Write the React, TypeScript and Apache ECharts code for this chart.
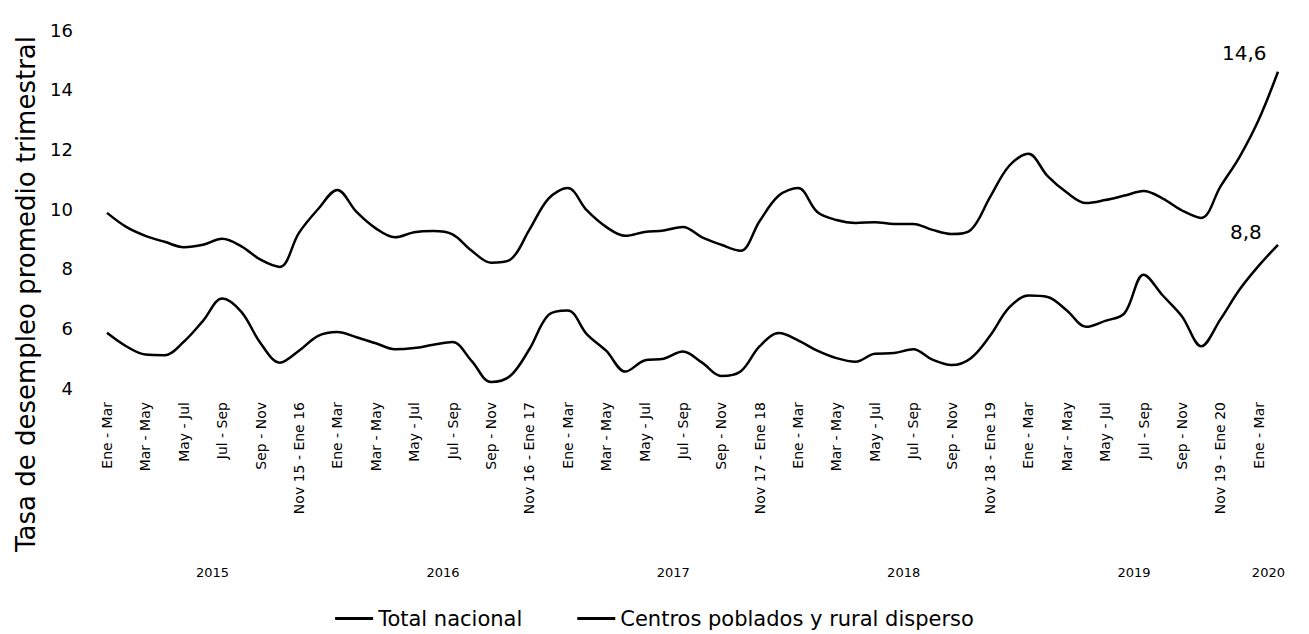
import React, { useEffect, useRef } from "react";
import * as echarts from "echarts";

const FONT = "DejaVu Sans";

const months = ["Ene", "Feb", "Mar", "Abr", "May", "Jun", "Jul", "Ago", "Sep", "Oct", "Nov", "Dic"];
const startYear = 2015;
const nCategories = 62;

// Rolling-quarter category labels (Ene - Mar 2015 ... Feb - Abr 2020)
const categories: string[] = [];
for (let i = 0; i < nCategories; i++) {
  const m = i % 12;
  const y = startYear + Math.floor(i / 12);
  const yy = String(y).slice(2);
  const yy1 = String(y + 1).slice(2);
  if (m <= 9) categories.push(`${months[m]} - ${months[m + 2]}`);
  else categories.push(`${months[m]} ${yy} - ${months[(m + 2) % 12]} ${yy1}`);
}

const yearLabels = ["2015", "2016", "2017", "2018", "2019", "2020"];
const yearTickPositions = [5.5, 17.5, 29.5, 41.5, 53.5, 60.5];

const totalNacional = [
  9.87, 9.4, 9.1, 8.9, 8.72, 8.8, 9.0, 8.75, 8.3, 8.06,
  9.2, 10.0, 10.64, 9.9, 9.35, 9.05, 9.22, 9.26, 9.15, 8.6,
  8.2, 8.3, 9.3, 10.35, 10.7, 9.95, 9.4, 9.1, 9.23, 9.28,
  9.4, 9.05, 8.8, 8.6, 9.6, 10.45, 10.7, 9.9, 9.63, 9.53,
  9.56, 9.5, 9.5, 9.3, 9.16, 9.3, 10.4, 11.45, 11.85, 11.1,
  10.55, 10.2, 10.3, 10.45, 10.6, 10.35, 9.95, 9.7, 10.75, 11.75,
  13.0, 14.6,
];

const centrosPoblados = [
  5.85, 5.4, 5.12, 5.1, 5.55, 6.25, 7.0, 6.55, 5.5, 4.85,
  5.25, 5.75, 5.88, 5.7, 5.5, 5.3, 5.34, 5.45, 5.54, 4.9,
  4.2, 4.4, 5.3, 6.45, 6.6, 5.8, 5.25, 4.55, 4.92, 4.98,
  5.22, 4.85, 4.4, 4.55, 5.4, 5.84, 5.6, 5.25, 5.0, 4.88,
  5.15, 5.17, 5.3, 4.95, 4.77, 5.0, 5.75, 6.7, 7.1, 7.05,
  6.6, 6.05, 6.25, 6.5, 7.8, 7.1, 6.4, 5.4, 6.3, 7.3,
  8.1, 8.8,
];

const seriesNames = ["Total nacional", "Centros poblados y rural disperso"];
const yTitle = "Tasa de desempleo promedio trimestral";

const fmtComma = (v: any) => {
  const n = Array.isArray(v) ? v[v.length - 1] : v;
  return String(n).replace(".", ",");
};

export default function App() {
  const ref = useRef<HTMLDivElement>(null);
  useEffect(() => {
    const chart = echarts.init(ref.current!, null, { renderer: "svg" });
    chart.setOption({
      animation: false,
      backgroundColor: "#fff",
      textStyle: { fontFamily: FONT, color: "#000" },
      grid: { left: 107, right: 31, top: 30, bottom: 246, containLabel: false },
      legend: {
        data: seriesNames,
        left: "center",
        top: 603,
        icon: "rect",
        itemWidth: 38,
        itemHeight: 3,
        itemGap: 55,
        itemStyle: { color: "#000" },
        textStyle: { fontSize: 21, fontFamily: FONT, color: "#000" },
      },
      graphic: [
        {
          type: "text",
          x: 26,
          y: 294,
          rotation: Math.PI / 2,
          style: {
            text: yTitle,
            fontSize: 26,
            fontFamily: FONT,
            fill: "#000",
            align: "center",
            verticalAlign: "middle",
            textAlign: "center",
            textVerticalAlign: "middle",
          },
        },
      ],
      xAxis: [
        {
          type: "category",
          data: categories,
          boundaryGap: false,
          axisLine: { show: false },
          axisTick: { show: false },
          splitLine: { show: false },
          axisLabel: {
            rotate: 90,
            interval: 1,
            fontSize: 14,
            fontFamily: FONT,
            color: "#000",
            margin: 14,
          },
        },
        {
          type: "value",
          min: 0,
          max: nCategories - 1,
          interval: 0.5,
          position: "bottom",
          offset: 0,
          axisLine: { show: false },
          axisTick: { show: false },
          splitLine: { show: false },
          axisLabel: {
            margin: 178,
            fontSize: 13,
            fontFamily: FONT,
            color: "#000",
            formatter: (v: number) => {
              const idx = yearTickPositions.indexOf(v);
              return idx >= 0 ? yearLabels[idx] : "";
            },
          },
        },
      ],
      yAxis: {
        type: "value",
        min: 4,
        max: 16,
        interval: 2,
        axisLine: { show: false },
        axisTick: { show: false },
        splitLine: { show: false },
        axisLabel: { fontSize: 18, fontFamily: FONT, color: "#000", margin: 34 },
      },
      series: [
        {
          name: seriesNames[0],
          type: "line",
          xAxisIndex: 0,
          data: totalNacional,
          smooth: 0.35,
          symbol: "none",
          lineStyle: { color: "#000", width: 2.5 },
          itemStyle: { color: "#000" },
          endLabel: {
            show: true,
            fontSize: 20,
            fontFamily: FONT,
            color: "#000",
            offset: [-64, -19],
            formatter: (p: any) => fmtComma(p.value),
          },
        },
        {
          name: seriesNames[1],
          type: "line",
          xAxisIndex: 0,
          data: centrosPoblados,
          smooth: 0.35,
          symbol: "none",
          lineStyle: { color: "#000", width: 2.5 },
          itemStyle: { color: "#000" },
          endLabel: {
            show: true,
            fontSize: 20,
            fontFamily: FONT,
            color: "#000",
            offset: [-56, -13],
            formatter: (p: any) => fmtComma(p.value),
          },
        },
      ],
    });
    return () => chart.dispose();
  }, []);
  return (
    <div
      ref={ref}
      style={{ position: "fixed", left: 0, top: 0, width: 1309, height: 634 }}
    />
  );
}
